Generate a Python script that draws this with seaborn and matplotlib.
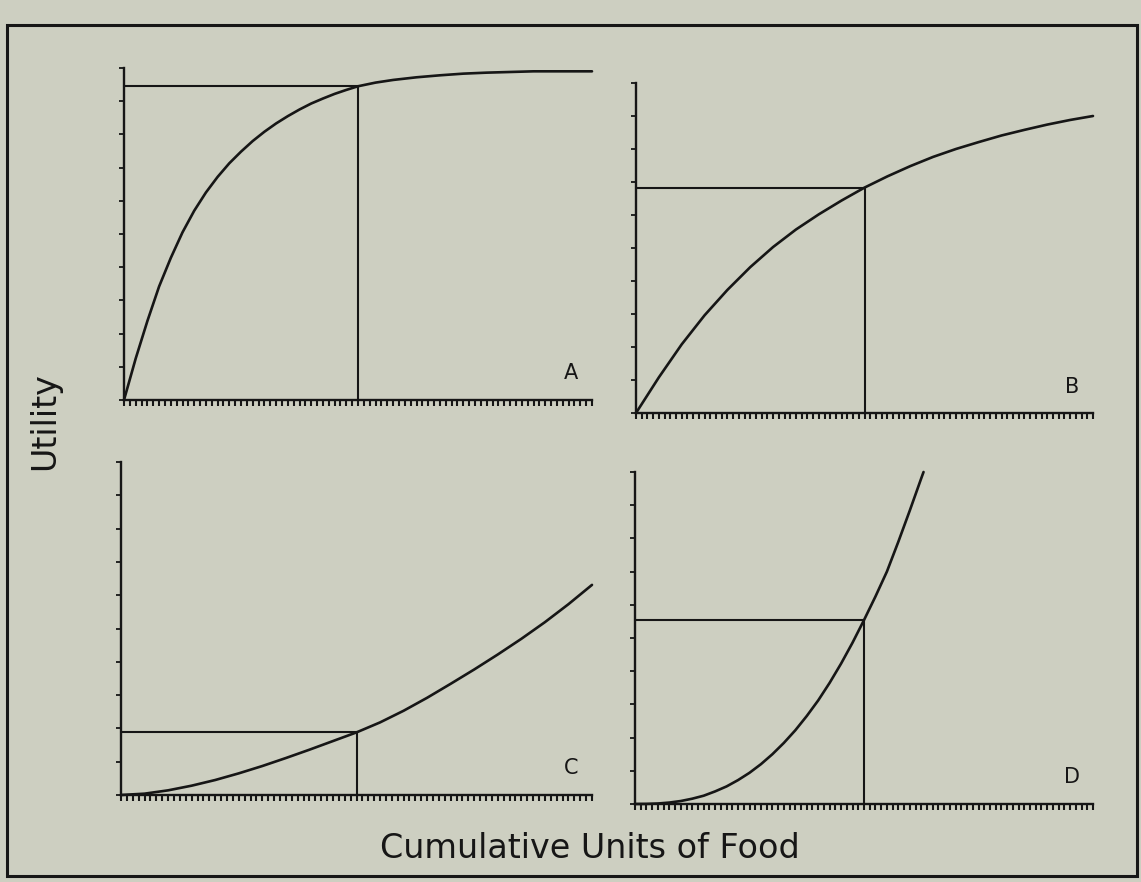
import matplotlib
matplotlib.use("Agg")
import matplotlib.pyplot as plt
from matplotlib.patches import Rectangle
import seaborn as sns
import pandas as pd

# Utility curves as (cumulative food, utility) pairs; food runs 0..80, utility 0..10
a_x = [0, 2, 4, 6, 8, 10, 12, 14, 16, 18, 20, 22, 24, 26, 28, 30, 32, 34, 36, 38, 40,
       43, 46, 50, 54, 58, 62, 66, 70, 75, 80]
a_y = [0, 1.25, 2.38, 3.42, 4.28, 5.05, 5.7, 6.25, 6.72, 7.13, 7.48, 7.8, 8.08, 8.33,
       8.55, 8.75, 8.93, 9.08, 9.22, 9.34, 9.45,
       9.56, 9.64, 9.72, 9.78, 9.83, 9.86, 9.88, 9.9, 9.9, 9.9]

b_x = [0, 4, 8, 12, 16, 20, 24, 28, 32, 36, 40, 44, 48, 52, 56, 60, 64, 68, 72, 76, 80]
b_y = [0, 1.08, 2.08, 2.96, 3.73, 4.42, 5.03, 5.56, 6.02, 6.44, 6.83, 7.17, 7.48,
       7.76, 8.0, 8.21, 8.41, 8.58, 8.74, 8.88, 9.0]

c_x = [0, 4, 8, 12, 16, 20, 24, 28, 32, 36, 40, 44, 48, 52, 56, 60, 64, 68, 72, 76, 80]
c_y = [0, 0.04, 0.14, 0.28, 0.45, 0.65, 0.87, 1.11, 1.36, 1.62, 1.88, 2.18, 2.53,
       2.92, 3.34, 3.77, 4.22, 4.69, 5.19, 5.73, 6.31]

d_x = [0, 2, 4, 6, 8, 10, 12, 14, 16, 18, 20, 22, 24, 26, 28, 30, 32, 34, 36, 38, 40,
       42, 44, 46, 48, 50, 50.4]
d_y = [0, 0.003, 0.015, 0.043, 0.09, 0.16, 0.25, 0.38, 0.53, 0.72, 0.94, 1.2, 1.5,
       1.84, 2.22, 2.65, 3.12, 3.65, 4.23, 4.86, 5.54, 6.25, 7.0, 7.9, 8.84, 9.81, 10.0]

panel_labels = ["A", "B", "C", "D"]
mark_x = 40          # amount of food consumed, marked in each panel
x_max = 80
y_max = 10

series = [(a_x, a_y), (b_x, b_y), (c_x, c_y), (d_x, d_y)]

sns.set_style("white")
plt.rcParams["font.family"] = ["DejaVu Sans"]

bg = "#cdcfc1"
ink = "#161616"

W, H = 1141, 882
fig = plt.figure(figsize=(W / 100, H / 100), dpi=100, facecolor=bg)

# axes boxes in pixels: left, right, bottom (y=0), top (y=10)
boxes = [
    (124, 592, 400, 68),
    (636, 1093, 413, 83),
    (121, 592, 795, 462),
    (635, 1093, 804, 472),
]

for (xs, ys), label, (l, r, b, t) in zip(series, panel_labels, boxes):
    ax = fig.add_axes([l / W, (H - b) / H, (r - l) / W, (b - t) / H])
    ax.set_facecolor(bg)
    df = pd.DataFrame({"food": xs, "utility": ys})
    sns.lineplot(data=df, x="food", y="utility", ax=ax, color=ink,
                 linewidth=1.9, sort=False, clip_on=False)

    mark_y = df.loc[df["food"] == mark_x, "utility"].iloc[0]
    ax.plot([0, mark_x], [mark_y, mark_y], color=ink, lw=1.5, clip_on=False)
    ax.plot([mark_x, mark_x], [0, mark_y], color=ink, lw=1.5, clip_on=False)

    ax.text(x_max - 3.6, 0.8, label, ha="center", va="center",
            fontsize=15, color=ink)

    ax.set_xlim(0, x_max)
    ax.set_ylim(0, y_max)
    ax.set_xticks(range(0, x_max + 1))
    ax.set_yticks(range(0, y_max + 1))
    ax.set_xticklabels([])
    ax.set_yticklabels([])
    ax.set_xlabel("")
    ax.set_ylabel("")
    ax.tick_params(axis="x", direction="out", length=4.2, width=1.5,
                   color=ink, bottom=True)
    ax.tick_params(axis="y", direction="out", length=3.8, width=1.3,
                   color=ink, left=True)
    for side in ("top", "right"):
        ax.spines[side].set_visible(False)
    for side in ("left", "bottom"):
        ax.spines[side].set_color(ink)
        ax.spines[side].set_linewidth(1.7)

fig.text(590 / W, 1 - 848 / H, "Cumulative Units of Food", ha="center",
         va="center", fontsize=24, color=ink)
fig.text(45 / W, 1 - 421 / H, "Utility", ha="center", va="center",
         rotation=90, fontsize=24, color=ink)

fig.add_artist(Rectangle((7 / W, 1 - 876 / H), (1137 - 7) / W, (876 - 25) / H,
                         transform=fig.transFigure, fill=False,
                         edgecolor=ink, linewidth=2.2))

fig.savefig("out.png", dpi=100, facecolor=bg)
